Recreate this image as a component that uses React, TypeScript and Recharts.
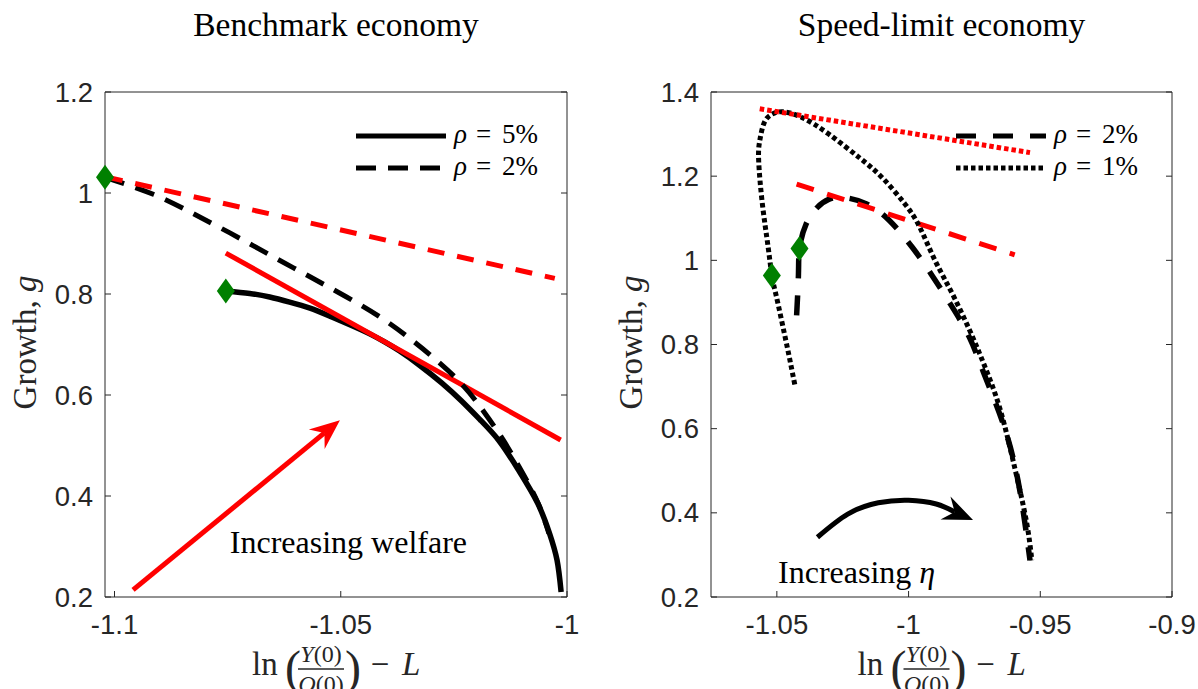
import React from 'react';
import { ComposedChart, Line, Scatter, XAxis, YAxis, Legend } from 'recharts';

const SERIF = '"Liberation Serif", "Times New Roman", Times, serif';
const SANS = '"Liberation Sans", Arial, Helvetica, sans-serif';
const AX = '#262626';
const RED = '#ff0000';
const GREEN = '#008000';
const TICK_FS = 27.5;

type P = { x: number; y: number };

// ---------------- Benchmark economy (left panel) ----------------
const benchXTicks = [-1.1, -1.05, -1];
const benchYTicks = [0.2, 0.4, 0.6, 0.8, 1, 1.2];
const benchXDomain = [-1.1021, -1.0];
const benchYDomain = [0.2, 1.2];

const benchRho5: P[] = [
  { x: -1.0754, y: 0.806 }, { x: -1.0701, y: 0.801 }, { x: -1.0657, y: 0.794 },
  { x: -1.0613, y: 0.784 }, { x: -1.0568, y: 0.772 }, { x: -1.0524, y: 0.756 },
  { x: -1.048, y: 0.739 }, { x: -1.0436, y: 0.721 }, { x: -1.0403, y: 0.705 },
  { x: -1.037, y: 0.687 }, { x: -1.0326, y: 0.659 }, { x: -1.0277, y: 0.624 },
  { x: -1.0233, y: 0.588 }, { x: -1.0191, y: 0.55 }, { x: -1.0149, y: 0.508 },
  { x: -1.0107, y: 0.451 }, { x: -1.0065, y: 0.386 }, { x: -1.0039, y: 0.327 },
  { x: -1.0022, y: 0.273 }, { x: -1.0013, y: 0.21 },
];
const benchRho2: P[] = [
  { x: -1.1021, y: 1.031 }, { x: -1.0913, y: 0.997 }, { x: -1.0828, y: 0.96 },
  { x: -1.0743, y: 0.92 }, { x: -1.0658, y: 0.878 }, { x: -1.0574, y: 0.837 },
  { x: -1.0489, y: 0.795 }, { x: -1.0404, y: 0.749 }, { x: -1.0336, y: 0.704 },
  { x: -1.0294, y: 0.673 }, { x: -1.0234, y: 0.623 }, { x: -1.0183, y: 0.566 },
  { x: -1.0141, y: 0.511 }, { x: -1.0099, y: 0.447 }, { x: -1.0064, y: 0.386 },
  { x: -1.004, y: 0.326 },
];
const benchTangent5: P[] = [{ x: -1.0754, y: 0.881 }, { x: -1.0014, y: 0.511 }];
const benchTangent2: P[] = [{ x: -1.1019, y: 1.032 }, { x: -1.0027, y: 0.831 }];
const benchArrow: P[] = [{ x: -1.0959, y: 0.214 }, { x: -1.0536, y: 0.525 }];
const benchStart: P[] = [{ x: -1.1021, y: 1.031 }, { x: -1.0754, y: 0.806 }];
const benchNotes = [{ x: -1.0483, y: 0.2865, text: 'Increasing welfare', greek: '' }];
const benchLegend = [
  { pct: '5%', dash: undefined as string | undefined },
  { pct: '2%', dash: '20 12' },
];

// ---------------- Speed-limit economy (right panel) ----------------
const speedXTicks = [-1.05, -1, -0.95, -0.9];
const speedYTicks = [0.2, 0.4, 0.6, 0.8, 1, 1.2, 1.4];
const speedXDomain = [-1.075, -0.9];
const speedYDomain = [0.2, 1.4];

const speedRho2: P[] = [
  { x: -1.0425, y: 0.869 }, { x: -1.0418, y: 0.967 }, { x: -1.0414, y: 1.028 },
  { x: -1.0389, y: 1.086 }, { x: -1.0346, y: 1.126 }, { x: -1.0303, y: 1.145 },
  { x: -1.0245, y: 1.149 }, { x: -1.0159, y: 1.134 }, { x: -1.0072, y: 1.094 },
  { x: -0.9986, y: 1.031 }, { x: -0.9914, y: 0.967 }, { x: -0.9841, y: 0.896 },
  { x: -0.9769, y: 0.817 }, { x: -0.9712, y: 0.728 }, { x: -0.964, y: 0.61 },
  { x: -0.9582, y: 0.468 }, { x: -0.9539, y: 0.287 },
];
const speedRho1: P[] = [
  { x: -1.0432, y: 0.705 }, { x: -1.0447, y: 0.752 }, { x: -1.0461, y: 0.795 },
  { x: -1.0483, y: 0.86 }, { x: -1.0504, y: 0.92 }, { x: -1.0519, y: 0.964 },
  { x: -1.0533, y: 1.031 }, { x: -1.0555, y: 1.134 }, { x: -1.0569, y: 1.236 },
  { x: -1.0565, y: 1.284 }, { x: -1.0548, y: 1.327 }, { x: -1.0519, y: 1.347 },
  { x: -1.0476, y: 1.353 }, { x: -1.0403, y: 1.339 }, { x: -1.0303, y: 1.3 },
  { x: -1.0187, y: 1.244 }, { x: -1.0101, y: 1.197 }, { x: -1.0014, y: 1.134 },
  { x: -0.9957, y: 1.078 }, { x: -0.9899, y: 0.999 }, { x: -0.9827, y: 0.912 },
  { x: -0.9755, y: 0.815 }, { x: -0.9712, y: 0.75 }, { x: -0.9654, y: 0.649 },
  { x: -0.9597, y: 0.507 }, { x: -0.9553, y: 0.381 }, { x: -0.9532, y: 0.287 },
];
const speedTangent1: P[] = [{ x: -1.0565, y: 1.36 }, { x: -0.9539, y: 1.256 }];
const speedTangent2: P[] = [{ x: -1.0425, y: 1.181 }, { x: -0.9597, y: 1.013 }];
const speedArrow: P[] = [
  { x: -1.0346, y: 0.342 }, { x: -1.0231, y: 0.397 }, { x: -1.0115, y: 0.424 },
  { x: -1.0, y: 0.43 }, { x: -0.9895, y: 0.421 }, { x: -0.9825, y: 0.402 },
];
const speedStart: P[] = [{ x: -1.0519, y: 0.964 }, { x: -1.0414, y: 1.028 }];
const speedNotes = [{ x: -1.0197, y: 0.233, text: 'Increasing ', greek: 'η' }];
const speedLegend = [
  { pct: '2%', dash: '20 17' as string | undefined },
  { pct: '1%', dash: '4.5 3' },
];

// ---------------- helpers ----------------
const fmt = (v: number) => String(v);

function BottomTick(props: any) {
  const { x, y, payload } = props;
  return (
    <g>
      <line x1={x} y1={y} x2={x} y2={y - 6} stroke={AX} strokeWidth={1} />
      <text x={x} y={y + 37} textAnchor="middle" style={{ fontFamily: SANS, fontSize: TICK_FS }} fill={AX}>
        {fmt(payload.value)}
      </text>
    </g>
  );
}
function LeftTick(props: any) {
  const { x, y, payload } = props;
  return (
    <g>
      <line x1={x} y1={y} x2={x + 6} y2={y} stroke={AX} strokeWidth={1} />
      <text x={x - 12} y={y + 9.5} textAnchor="end" style={{ fontFamily: SANS, fontSize: TICK_FS }} fill={AX}>
        {fmt(payload.value)}
      </text>
    </g>
  );
}
function TopTick(props: any) {
  const { x, y } = props;
  return <line x1={x} y1={y} x2={x} y2={y + 6} stroke={AX} strokeWidth={1} />;
}
function RightTick(props: any) {
  const { x, y } = props;
  return <line x1={x} y1={y} x2={x - 6} y2={y} stroke={AX} strokeWidth={1} />;
}

function TitleText({ viewBox, text }: any) {
  const cx = viewBox.x + viewBox.width / 2;
  const by = viewBox.y + viewBox.height - 56;
  return (
    <text x={cx} y={by} textAnchor="middle" style={{ fontFamily: SERIF, fontSize: 33.5 }} fill="#000">
      {text}
    </text>
  );
}

function YLabel({ viewBox }: any) {
  const x = viewBox.x + viewBox.width - 69;
  const y = viewBox.y + viewBox.height / 2 - 2;
  return (
    <text
      x={0}
      y={0}
      transform={`translate(${x},${y}) rotate(-90)`}
      textAnchor="middle"
      style={{ fontFamily: SERIF, fontSize: 33 }}
      fill={AX}
    >
      Growth, <tspan fontStyle="italic">g</tspan>
    </text>
  );
}

function XLabel({ viewBox }: any) {
  const cx = viewBox.x + viewBox.width / 2;
  const by = viewBox.y + 78;
  const s = (fs: number) => ({ fontFamily: SERIF, fontSize: fs });
  return (
    <g fill={AX}>
      <text x={cx - 84} y={by} style={s(33)}>ln</text>
      <text x={cx - 51} y={by + 9} style={s(48)}>(</text>
      <text x={cx - 15} y={by - 13} textAnchor="middle" style={s(24)}>
        <tspan fontStyle="italic">Y</tspan>(0)
      </text>
      <line x1={cx - 38} y1={by - 6} x2={cx + 8} y2={by - 6} stroke={AX} strokeWidth={1.3} />
      <text x={cx - 15} y={by + 17} textAnchor="middle" style={s(24)}>
        <tspan fontStyle="italic">Q</tspan>(0)
      </text>
      <text x={cx + 9} y={by + 9} style={s(48)}>)</text>
      <text x={cx + 44} y={by} textAnchor="middle" style={s(33)}>−</text>
      <text x={cx + 66} y={by} fontStyle="italic" style={s(33)}>L</text>
    </g>
  );
}

function LegendBox({ items }: any) {
  return (
    <svg width={200} height={75} style={{ display: 'block', overflow: 'visible' }}>
      {items.map((it: any, i: number) => {
        const y = 26 + 32 * i;
        return (
          <g key={i}>
            <line x1={6} y1={y} x2={96} y2={y} stroke="#000" strokeWidth={5} strokeDasharray={it.dash} />
            <text y={y + 7} style={{ fontFamily: SERIF, fontSize: 27 }} fill="#000">
              <tspan x={104} fontStyle="italic">ρ</tspan>
              <tspan x={126}>=</tspan>
              <tspan x={152}>{it.pct}</tspan>
            </text>
          </g>
        );
      })}
    </svg>
  );
}

function Diamond(props: any) {
  const { cx, cy } = props;
  if (cx == null || cy == null) return <g />;
  return (
    <polygon
      points={`${cx},${cy - 12.5} ${cx + 9},${cy} ${cx},${cy + 12.5} ${cx - 9},${cy}`}
      fill={GREEN}
    />
  );
}

function NoteShape(props: any) {
  const { cx, cy, payload } = props;
  return (
    <text x={cx} y={cy} textAnchor="middle" style={{ fontFamily: SERIF, fontSize: 32 }} fill="#000">
      {payload.text}
      {payload.greek ? <tspan fontStyle="italic">{payload.greek}</tspan> : null}
    </text>
  );
}

function makeArrowDot(n: number, color: string) {
  let prev = { cx: 0, cy: 0 };
  return (props: any) => {
    const { cx, cy, index } = props;
    if (index < n - 1) {
      prev = { cx, cy };
      return <g key={`ad${index}`} />;
    }
    const dx = cx - prev.cx;
    const dy = cy - prev.cy;
    const L = Math.hypot(dx, dy) || 1;
    const ux = dx / L;
    const uy = dy / L;
    const nx = -uy;
    const ny = ux;
    const tip = [cx + 20 * ux, cy + 20 * uy];
    const bx = cx - 10 * ux;
    const by = cy - 10 * uy;
    const p1 = [bx + 12.5 * nx, by + 12.5 * ny];
    const p2 = [bx - 12.5 * nx, by - 12.5 * ny];
    return (
      <polygon
        key={`ad${index}`}
        points={`${tip[0]},${tip[1]} ${p1[0]},${p1[1]} ${cx},${cy} ${p2[0]},${p2[1]}`}
        fill={color}
      />
    );
  };
}

function Panel(props: any) {
  const { offsetLeft, width, mLeft, mRight, xDomain, xTicks, yDomain, yTicks, title, legend, children } = props;
  return (
    <div style={{ position: 'absolute', left: offsetLeft, top: 0 }}>
      <ComposedChart width={width} height={689} margin={{ top: 90, right: mRight, bottom: 52, left: mLeft }}>
        <XAxis
          dataKey="x"
          type="number"
          domain={xDomain}
          ticks={xTicks}
          interval={0}
          tickSize={0}
          tickMargin={0}
          tickLine={false}
          axisLine={{ stroke: AX, strokeWidth: 1 }}
          tick={(p: any) => <BottomTick {...p} />}
          height={40}
          label={(p: any) => <XLabel viewBox={p.viewBox} />}
        />
        <XAxis
          xAxisId="top"
          orientation="top"
          type="number"
          domain={xDomain}
          allowDataOverflow
          ticks={xTicks}
          interval={0}
          tickSize={0}
          tickMargin={0}
          tickLine={false}
          axisLine={{ stroke: AX, strokeWidth: 1 }}
          tick={(p: any) => <TopTick {...p} />}
          height={2}
          label={(p: any) => <TitleText viewBox={p.viewBox} text={title} />}
        />
        <YAxis
          dataKey="y"
          type="number"
          domain={yDomain}
          ticks={yTicks}
          interval={0}
          tickSize={0}
          tickMargin={0}
          tickLine={false}
          axisLine={{ stroke: AX, strokeWidth: 1 }}
          tick={(p: any) => <LeftTick {...p} />}
          width={60}
          label={(p: any) => <YLabel viewBox={p.viewBox} />}
        />
        <YAxis
          yAxisId="right"
          orientation="right"
          type="number"
          domain={yDomain}
          allowDataOverflow
          ticks={yTicks}
          interval={0}
          tickSize={0}
          tickMargin={0}
          tickLine={false}
          axisLine={{ stroke: AX, strokeWidth: 1 }}
          tick={(p: any) => <RightTick {...p} />}
          width={2}
        />
        <Legend
          layout="vertical"
          align="center"
          verticalAlign="middle"
          wrapperStyle={{ left: 350, top: 110, width: 200, height: 75 }}
          content={() => <LegendBox items={legend} />}
        />
        {children}
      </ComposedChart>
    </div>
  );
}

export default function App() {
  const common = { dataKey: 'y', dot: false, activeDot: false, isAnimationActive: false, legendType: 'none' as const };
  return (
    <div style={{ position: 'absolute', left: 0, top: 0, width: 1198, height: 689, background: '#fff' }}>
      <Panel
        offsetLeft={0}
        width={600}
        mLeft={45}
        mRight={31}
        xDomain={benchXDomain}
        xTicks={benchXTicks}
        yDomain={benchYDomain}
        yTicks={benchYTicks}
        title="Benchmark economy"
        legend={benchLegend}
      >
        <Line {...common} data={benchRho5} type="natural" stroke="#000" strokeWidth={5.5} />
        <Line {...common} data={benchTangent5} type="linear" stroke={RED} strokeWidth={5} />
        <Line {...common} data={benchRho2} type="natural" stroke="#000" strokeWidth={5} strokeDasharray="20 12" />
        <Line {...common} data={benchTangent2} type="linear" stroke={RED} strokeWidth={5} strokeDasharray="17 13" />
        <Line
          {...common}
          data={benchArrow}
          type="linear"
          stroke={RED}
          strokeWidth={5}
          dot={makeArrowDot(benchArrow.length, RED)}
        />
        <Scatter data={benchStart} shape={Diamond} isAnimationActive={false} legendType="none" />
        <Scatter data={benchNotes} shape={NoteShape} isAnimationActive={false} legendType="none" />
      </Panel>
      <Panel
        offsetLeft={600}
        width={598}
        mLeft={51}
        mRight={24}
        xDomain={speedXDomain}
        xTicks={speedXTicks}
        yDomain={speedYDomain}
        yTicks={speedYTicks}
        title="Speed-limit economy"
        legend={speedLegend}
      >
        <Line {...common} data={speedRho2} type="natural" stroke="#000" strokeWidth={5.5} strokeDasharray="20 17" />
        <Line {...common} data={speedTangent2} type="linear" stroke={RED} strokeWidth={5} strokeDasharray="18 14" />
        <Line {...common} data={speedRho1} type="natural" stroke="#000" strokeWidth={5} strokeDasharray="4.5 3" />
        <Line {...common} data={speedTangent1} type="linear" stroke={RED} strokeWidth={5} strokeDasharray="4.5 3" />
        <Line
          {...common}
          data={speedArrow}
          type="natural"
          stroke="#000"
          strokeWidth={5}
          dot={makeArrowDot(speedArrow.length, '#000')}
        />
        <Scatter data={speedStart} shape={Diamond} isAnimationActive={false} legendType="none" />
        <Scatter data={speedNotes} shape={NoteShape} isAnimationActive={false} legendType="none" />
      </Panel>
    </div>
  );
}
